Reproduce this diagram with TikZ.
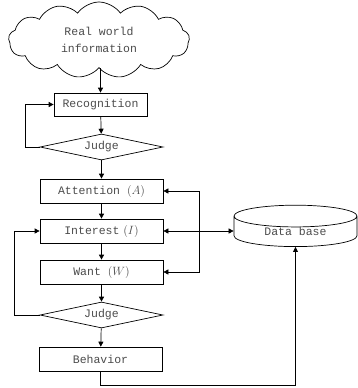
\documentclass[tikz,border=0pt]{standalone}
\usepackage{fontspec}
\setmonofont{Liberation Mono}
\usepackage{xcolor}
\usetikzlibrary{arrows.meta,shapes.symbols,shapes.geometric}
\definecolor{txtgray}{RGB}{75,75,75}

\begin{document}
\begin{tikzpicture}[x=1pt, y=-1pt, >={Triangle[length=5pt,width=5pt]},
    every node/.style={font=\ttfamily\fontsize{11.5}{17}\selectfont, text=txtgray},
    box/.style={draw, line width=0.7pt, minimum width=123pt, minimum height=24pt, inner sep=0pt},
    judgebox/.style={draw, diamond, line width=0.7pt, aspect=4.7, minimum width=123pt, minimum height=26pt, inner sep=0pt}]
    \useasboundingbox (0,0) rectangle (357,388);
    \node[cloud, draw, line width=0.7pt, cloud puffs=13, cloud puff arc=110, cloud ignores aspect, inner sep=0pt, minimum width=181pt, minimum height=76pt, align=center] (world) at (99,40) {Real world\\information};
    \node[box, minimum width=93pt, minimum height=23pt] (recog) at (100.5,104.5) {Recognition};
    \node[judgebox] (judgeA) at (101.5,147) {Judge};
    \node[box] (attn) at (101.5,191) {Attention $(A)$};
    \node[box] (intr) at (101.5,231) {Interest\,\,$(I)$};
    \node[box] (want) at (101.5,272) {Want $(W)$};
    \node[judgebox] (judgeB) at (101.5,315) {Judge};
    \node[box] (behav) at (100.5,359) {Behavior};
    \node[cylinder, draw, line width=0.7pt, shape border rotate=90, aspect=0.35, minimum width=123pt, minimum height=37pt, inner sep=0pt] (db) at (295.5,231.5) {Data base};
    \coordinate (bus) at (199,231);
    % main flow
    \draw[->, line width=0.7pt] (world.south -| recog) -- (recog);
    \draw[->, line width=0.7pt] (recog) -- (judgeA);
    \draw[->, line width=0.7pt] (judgeA.west) -- ++(-14,0) |- (recog.west);
    \draw[->, line width=0.7pt] (judgeA) -- (attn);
    \draw[->, line width=0.7pt] (attn) -- (intr);
    \draw[->, line width=0.7pt] (intr) -- (want);
    \draw[->, line width=0.7pt] (want) -- (judgeB);
    \draw[->, line width=0.7pt] (judgeB) -- (behav);
    \draw[->, line width=0.7pt] (judgeB.west) -- ++(-25,0) |- (intr.west);
    % data base links
    \draw[<->, line width=0.7pt] (intr.east) -- (intr.east -| db.west);
    \draw[->, line width=0.7pt] (bus) |- (attn.east);
    \draw[->, line width=0.7pt] (bus) |- (want.east);
    \draw[->, line width=0.7pt] (behav.south) -- ++(0,14) -| (db.south);
\end{tikzpicture}
\end{document}
